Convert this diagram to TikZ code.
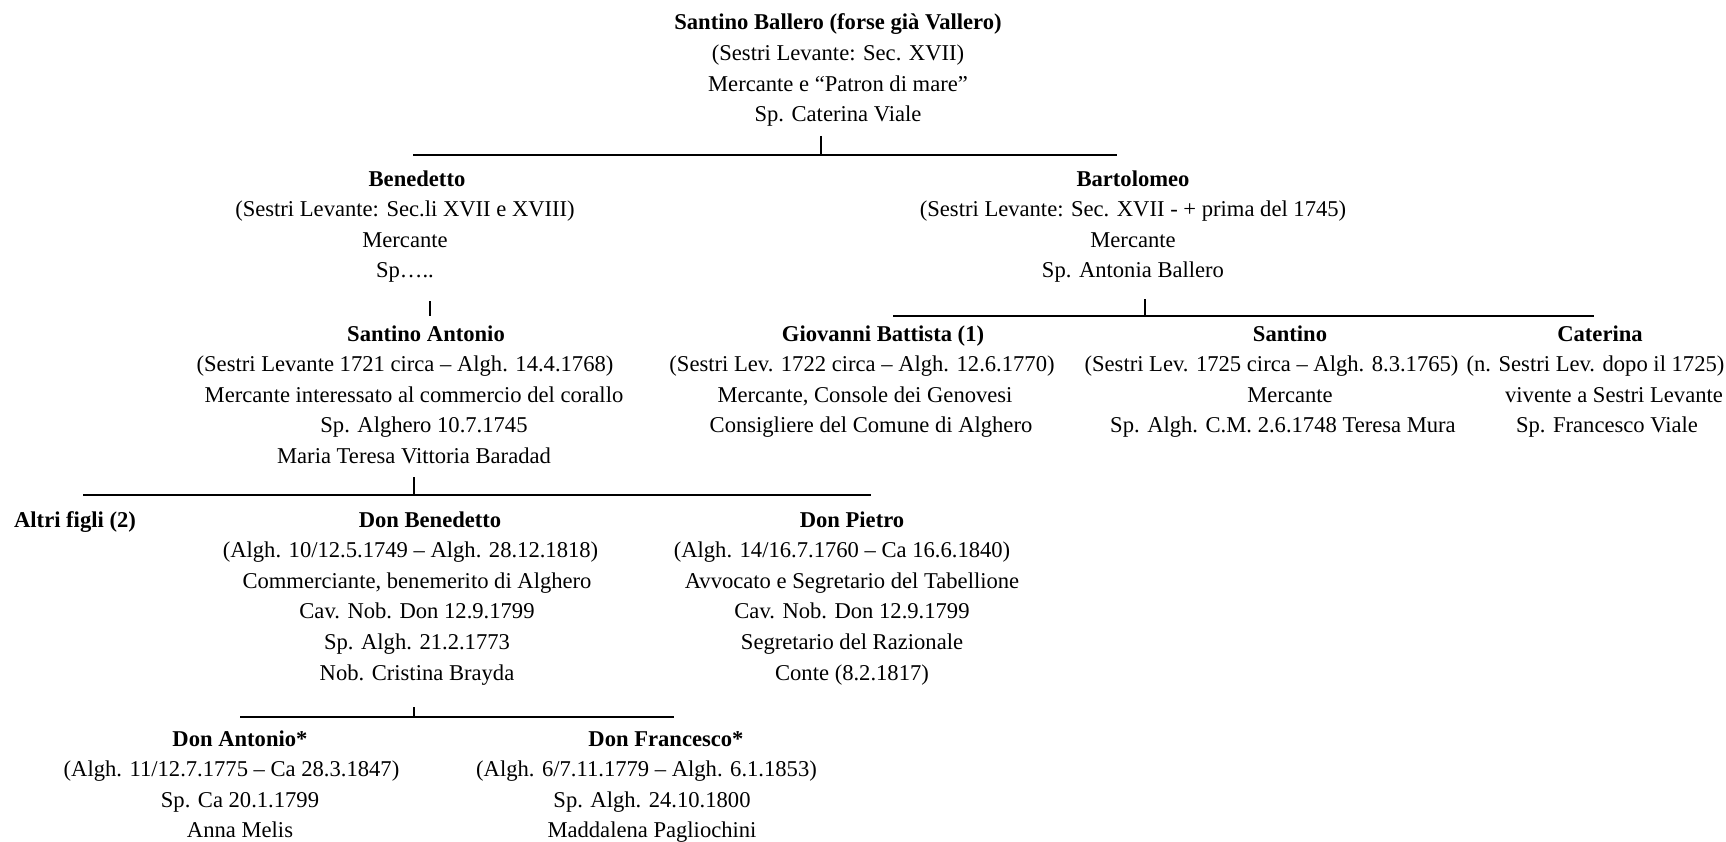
\documentclass[tikz,border=0pt]{standalone}
\usepackage{fontspec}
\setmainfont{Liberation Serif}
\newcommand\Strt{\rule{0pt}{16pt}}
\newcommand\Sft[2]{\ifdim#1pt>0pt\hspace*{#1pt}\hspace*{#1pt}#2\else#2\hspace*{-#1pt}\hspace*{-#1pt}\fi}
\begin{document}
\begin{tikzpicture}[x=1pt,y=-1pt,
  person/.style={align=center, anchor=north, inner sep=0pt, outer sep=0pt,
    font=\fontsize{22.6}{30.6}\selectfont},
  bar/.style={line width=2.6pt},
  tick/.style={line width=1.9pt}]
\useasboundingbox (0,0) rectangle (1726,842);

% generation 0
\node[person] (santino) at (838,14) {\Strt\textbf{Santino Ballero (forse già Vallero)}\\(Sestri Levante: Sec. XVII)\\Mercante e “Patron di mare”\\Sp. Caterina Viale};

% generation 1
\node[person] (benedetto) at (405,170) {\Strt\Sft{12}{\textbf{Benedetto}}\\(Sestri Levante: Sec.li XVII e XVIII)\\Mercante\\Sp…..};
\node[person] (bartolomeo) at (1133,170) {\Strt\textbf{Bartolomeo}\\(Sestri Levante: Sec. XVII - + prima del 1745)\\Mercante\\Sp. Antonia Ballero};

% generation 2
\node[person] (santinoant) at (414,325) {\Strt\Sft{12}{\textbf{Santino Antonio}}\\\Sft{-18}{(Sestri Levante 1721 circa – Algh. 14.4.1768)}\\Mercante interessato al commercio del corallo\\\Sft{10}{Sp. Alghero 10.7.1745}\\Maria Teresa Vittoria Baradad};
\node[person] (giovanni) at (865,325) {\Strt\Sft{18}{\textbf{Giovanni Battista (1)}}\\\Sft{-6}{(Sestri Lev. 1722 circa – Algh. 12.6.1770)}\\Mercante, Console dei Genovesi\\\Sft{6}{Consigliere del Comune di Alghero}};
\node[person] (santinob) at (1290,325) {\Strt\textbf{Santino}\\\Sft{-37}{(Sestri Lev. 1725 circa – Algh. 8.3.1765)}\\Mercante\\\Sft{-7}{Sp. Algh. C.M. 2.6.1748 Teresa Mura}};
\node[person] (caterina) at (1607,325) {\Strt\Sft{-7}{\textbf{Caterina}}\\\Sft{-23}{(n. Sestri Lev. dopo il 1725)}\\\Sft{7}{vivente a Sestri Levante}\\Sp. Francesco Viale};

% generation 3
\node[person] (altri) at (75,511) {\Strt\textbf{Altri figli (2)}};
\node[person] (donbenedetto) at (417,511) {\Strt\Sft{13}{\textbf{Don Benedetto}}\\\Sft{-13}{(Algh. 10/12.5.1749 – Algh. 28.12.1818)}\\Commerciante, benemerito di Alghero\\Cav. Nob. Don 12.9.1799\\Sp. Algh. 21.2.1773\\Nob. Cristina Brayda};
\node[person] (donpietro) at (852,511) {\Strt\textbf{Don Pietro}\\\Sft{-20}{(Algh. 14/16.7.1760 – Ca 16.6.1840)}\\Avvocato e Segretario del Tabellione\\Cav. Nob. Don 12.9.1799\\Segretario del Razionale\\Conte (8.2.1817)};

% generation 4
\node[person] (donantonio) at (240,730) {\Strt\textbf{Don Antonio*}\\\Sft{-17}{(Algh. 11/12.7.1775 – Ca 28.3.1847)}\\Sp. Ca 20.1.1799\\Anna Melis};
\node[person] (donfrancesco) at (652,730) {\Strt\Sft{14}{\textbf{Don Francesco*}}\\\Sft{-11}{(Algh. 6/7.11.1779 – Algh. 6.1.1853)}\\Sp. Algh. 24.10.1800\\Maddalena Pagliochini};

% connector coordinates
\coordinate (t1) at (821,136); \coordinate (j1) at (821,155);
\coordinate (b1a) at (413,155); \coordinate (b1b) at (1117,155);
\coordinate (t2) at (430,301); \coordinate (j2) at (430,316);
\coordinate (t4) at (1145,299); \coordinate (j4) at (1145,316);
\coordinate (b4a) at (893,316); \coordinate (b4b) at (1594,316);
\coordinate (t3) at (414,477); \coordinate (j3) at (414,495);
\coordinate (b3a) at (83,495); \coordinate (b3b) at (871,495);
\coordinate (t5) at (414,707); \coordinate (j5) at (414,717);
\coordinate (b5a) at (240,717); \coordinate (b5b) at (674,717);

\draw[tick] (t1) -- (j1);
\draw[bar] (b1a) -- (b1b);
\draw[tick] (t2) -- (j2);
\draw[tick] (t4) -- (j4);
\draw[bar] (b4a) -- (b4b);
\draw[tick] (t3) -- (j3);
\draw[bar] (b3a) -- (b3b);
\draw[tick] (t5) -- (j5);
\draw[bar] (b5a) -- (b5b);
\end{tikzpicture}
\end{document}
